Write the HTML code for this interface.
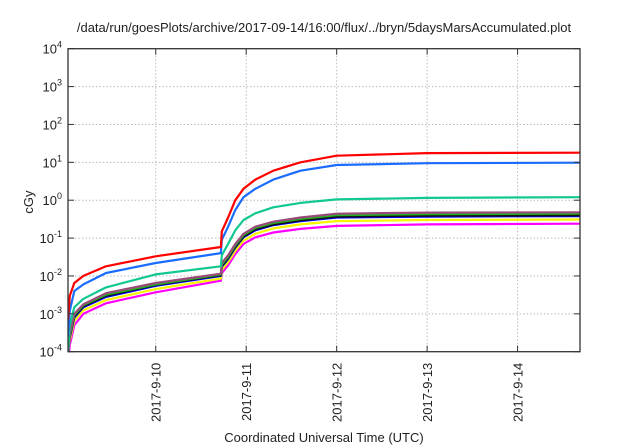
<!DOCTYPE html>
<html><head><meta charset="utf-8"><style>
html,body{margin:0;padding:0;background:#fff;width:640px;height:448px;overflow:hidden}
svg text{font-family:"Liberation Sans",sans-serif;fill:#222}
</style></head><body>
<svg id="chart" width="640" height="448" xmlns="http://www.w3.org/2000/svg">
<defs><clipPath id="pc"><rect x="68" y="48.7" width="512" height="303"/></clipPath></defs>
<text x="324" y="32" font-size="13" text-anchor="middle">/data/run/goesPlots/archive/2017-09-14/16:00/flux/../bryn/5daysMarsAccumulated.plot</text>
<text transform="translate(33,202) rotate(-90)" font-size="13" text-anchor="middle">cGy</text>
<text x="324" y="442" font-size="13" text-anchor="middle">Coordinated Universal Time (UTC)</text>
<g id="grid"></g>
<g id="series" clip-path="url(#pc)"></g>
<rect x="68" y="48.7" width="512" height="303" fill="none" stroke="#333" stroke-width="1.3"/>
<g id="ticks"></g>
</svg>
<script>
const yTicks=[-4,-3,-2,-1,0,1,2,3,4];
const xTickDays=[1,2,3,4,5];
const xTickLabels=["2017-9-10","2017-9-11","2017-9-12","2017-9-13","2017-9-14"];
const times=[0.03,0.05,0.1,0.2,0.45,1.0,1.72,1.73,1.8,1.88,1.97,2.1,2.3,2.6,3.0,4.0,5.69];
const red=[7e-4,3e-3,6.5e-3,1e-2,1.8e-2,3.3e-2,5.8e-2,1.5e-1,3.5e-1,1.0,2.0,3.5,6,10,15,17.5,18];
const blueLight=[2.5e-4,1.2e-3,4e-3,6e-3,1.2e-2,2.2e-2,4e-2,9e-2,2e-1,5.5e-1,1.2,2,3.5,6,8.5,9.5,9.8];
const teal=[1e-4,5e-4,1.5e-3,2.5e-3,5e-3,1.1e-2,1.8e-2,3.5e-2,7e-2,1.6e-1,3e-1,4.5e-1,6.5e-1,8.5e-1,1.05,1.15,1.2];
const mauve=[1e-4,3e-4,1e-3,1.8e-3,3.5e-3,6.5e-3,1.15e-2,2.2e-2,3.5e-2,7e-2,1.3e-1,2e-1,2.7e-1,3.5e-1,4.4e-1,4.7e-1,4.8e-1];
const green=[1e-4,2.8e-4,9.2e-4,1.7e-3,3.2e-3,6e-3,1.1e-2,2e-2,3.2e-2,6.4e-2,1.2e-1,1.85e-1,2.5e-1,3.2e-1,4.05e-1,4.3e-1,4.4e-1];
const black=[1e-4,2.6e-4,8.6e-4,1.6e-3,3e-3,5.8e-3,1.05e-2,1.85e-2,3e-2,5.9e-2,1.1e-1,1.7e-1,2.3e-1,2.95e-1,3.7e-1,3.9e-1,4e-1];
const blueDark=[1e-4,2.4e-4,8e-4,1.5e-3,2.8e-3,5.5e-3,1e-2,1.75e-2,2.8e-2,5.6e-2,1.05e-1,1.6e-1,2.2e-1,2.8e-1,3.5e-1,3.7e-1,3.8e-1];
const yellow=[1e-4,2e-4,6.5e-4,1.25e-3,2.3e-3,4.5e-3,8.5e-3,1.45e-2,2.3e-2,4.6e-2,8.5e-2,1.3e-1,1.8e-1,2.3e-1,2.8e-1,3e-1,3.1e-1];
const magenta=[5e-5,1.5e-4,5e-4,1e-3,1.9e-3,3.7e-3,7.5e-3,1.2e-2,1.9e-2,3.8e-2,7e-2,1.05e-1,1.4e-1,1.75e-1,2.1e-1,2.3e-1,2.4e-1];

const L=68,R=580,T=48.7,B=351.7,x0=0.03,x1=5.69;
const NS="http://www.w3.org/2000/svg";
function xs(t){return L+(t-x0)/(x1-x0)*(R-L);}
function ys(v){const l=Math.log10(v);return B-(l+4)/8*(B-T);}
function mk(tag,attrs,parent){const e=document.createElementNS(NS,tag);for(const k in attrs)e.setAttribute(k,attrs[k]);parent.appendChild(e);return e;}
const grid=document.getElementById('grid'),ticks=document.getElementById('ticks'),ser=document.getElementById('series');
yTicks.forEach(p=>{
  const y=B-(p+4)/8*(B-T);
  if(p>-4&&p<4){const g=mk('line',{x1:L,x2:R,y1:y,y2:y,stroke:'#bbb','stroke-dasharray':'1.5,2','stroke-width':1},grid);
  
  }
  const t1=mk('line',{x1:L,x2:L+6,y1:y,y2:y,stroke:'#333'},ticks);
  
  
  const t2=mk('line',{x1:R-6,x2:R,y1:y,y2:y,stroke:'#333'},ticks);
  
  
  const tx=mk('text',{x:L-6,y:y+5,'font-size':'13','text-anchor':'end'},ticks);
  
  
  tx.textContent='10';
  const sp=mk('tspan',{dy:-6,'font-size':'9'},tx);sp.textContent=String(p);
});
xTickDays.forEach((d,i)=>{
  const x=xs(d);
  const g=mk('line',{x1:x,x2:x,y1:T,y2:B,stroke:'#bbb','stroke-dasharray':'1.5,2','stroke-width':1},grid);
  
  
  const t1=mk('line',{x1:x,x2:x,y1:B-6,y2:B,stroke:'#333'},ticks);
  
  
  const t2=mk('line',{x1:x,x2:x,y1:T,y2:T+6,stroke:'#333'},ticks);
  
  
  const tx=mk('text',{transform:`translate(${x+5},${B+11}) rotate(-90)`,'font-size':'13','text-anchor':'end'},ticks);
  
  
  tx.textContent=xTickLabels[i];
});
const all=[[magenta,'#ff00ff','magenta'],[yellow,'#f5f500','yellow'],[blueDark,'#0000ff','blue-dark'],[black,'#111','black'],[green,'#22b022','green'],[mauve,'#9a4a7a','mauve'],[teal,'#10c890','teal'],[blueLight,'#1a6cff','blue-light'],[red,'#ff0000','red']];
all.forEach(([vals,c,n])=>{
  const d=vals.map((v,i)=>(i?'L':'M')+xs(times[i]).toFixed(1)+','+ys(v).toFixed(1)).join(' ');
  const p=mk('path',{d:d,fill:'none',stroke:c,'stroke-width':2.2,'stroke-linejoin':'round'},ser);
  
  
});
</script>
</body></html>
